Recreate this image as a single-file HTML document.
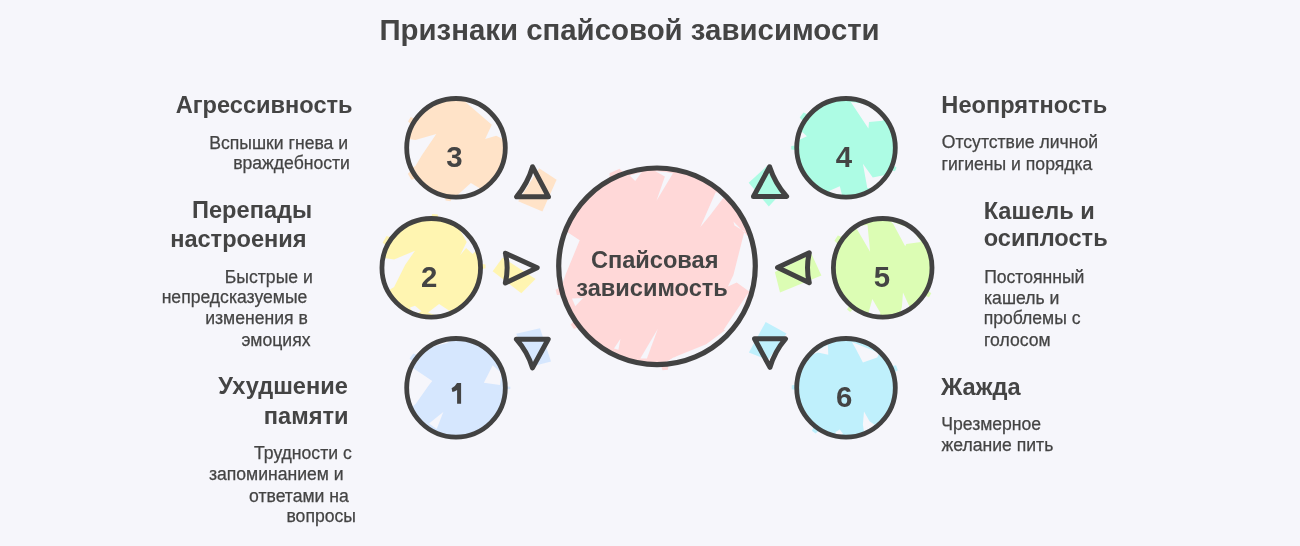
<!DOCTYPE html>
<html><head><meta charset="utf-8"><style>
html,body{margin:0;padding:0;background:#f6f6fb;}
body{width:1300px;height:546px;overflow:hidden;}
svg{display:block;will-change:transform;}
text{font-family:"Liberation Sans",sans-serif;fill:#444444;}
</style></head><body>
<svg width="1300" height="546" viewBox="0 0 1300 546">
<rect width="1300" height="546" fill="#f6f6fb"/>
<polygon points="539.10,168.20 556.60,179.70 542.40,211.60 518.20,201.20" fill="#ffe3c8"/>
<polygon points="492.70,271.30 502.60,257.50 535.50,279.00 521.30,293.20" fill="#fff5b1"/>
<polygon points="516.20,333.70 540.00,328.20 551.00,361.60 532.70,366.20" fill="#d6e7fe"/>
<polygon points="748.70,182.70 767.00,166.00 784.00,190.00 768.80,206.50" fill="#adfce4"/>
<polygon points="774.90,272.00 811.50,254.00 821.40,275.60 780.00,292.50" fill="#dcfdb4"/>
<polygon points="765.70,322.00 786.50,333.50 768.00,360.00 748.90,352.60" fill="#bff0fc"/>
<circle cx="456.0" cy="147.8" r="49.3" fill="#ffe3c8"/>
<circle cx="431.25" cy="267.8" r="49.3" fill="#fff5b1"/>
<circle cx="456.0" cy="387.8" r="49.3" fill="#d6e7fe"/>
<circle cx="846.0" cy="147.8" r="49.3" fill="#adfce4"/>
<circle cx="882.7" cy="267.8" r="49.3" fill="#dcfdb4"/>
<circle cx="846.0" cy="387.8" r="49.3" fill="#bff0fc"/>
<circle cx="657.0" cy="266.3" r="98.3" fill="#ffd8d8"/>
<polygon points="409.00,139.00 415.40,140.00 436.30,134.00 422.00,155.00 415.40,166.00 408.00,170.00 405.00,150.00" fill="#f6f6fb"/>
<polygon points="465.40,102.10 483.00,104.90 496.20,117.00 501.60,128.00 502.70,139.00 496.20,135.70 485.20,139.00 491.80,124.70" fill="#f6f6fb"/>
<polygon points="457.00,195.50 470.90,182.90 480.80,189.00 476.00,197.00" fill="#f6f6fb"/>
<polygon points="384.00,258.00 394.10,259.50 415.00,250.70 405.10,265.00 394.10,287.00 386.00,292.00 381.00,275.00" fill="#f6f6fb"/>
<polygon points="456.00,223.10 472.60,237.40 477.40,249.30 472.60,254.00 466.10,248.10 460.10,255.20 466.70,242.10" fill="#f6f6fb"/>
<polygon points="410.00,307.50 415.00,305.70 421.50,311.20 414.00,315.00" fill="#f6f6fb"/>
<polygon points="428.00,312.50 439.10,304.00 450.10,311.20 440.00,317.00" fill="#f6f6fb"/>
<polygon points="410.00,366.00 432.30,381.10 429.00,385.00 415.80,403.70 410.00,409.00 406.00,390.00" fill="#f6f6fb"/>
<polygon points="418.00,350.00 446.50,343.20 455.00,339.00 425.00,342.00" fill="#f6f6fb"/>
<polygon points="483.90,382.70 492.70,365.20 501.50,372.90 500.00,385.00" fill="#f6f6fb"/>
<polygon points="443.30,411.90 436.70,429.00 429.00,423.50" fill="#f6f6fb"/>
<polygon points="850.80,102.10 869.50,104.30 884.90,117.50 882.70,120.80 869.00,121.90 868.40,128.50" fill="#f6f6fb"/>
<polygon points="862.90,163.70 872.80,177.40 886.00,174.70 875.00,189.00 867.30,188.00" fill="#f6f6fb"/>
<polygon points="829.00,191.00 839.80,186.20 842.00,195.00 832.00,194.00" fill="#f6f6fb"/>
<polygon points="800.00,130.00 806.90,136.20 799.00,140.00" fill="#f6f6fb"/>
<polygon points="855.00,226.00 867.50,225.00 870.10,251.80 858.00,231.00" fill="#f6f6fb"/>
<polygon points="890.00,221.00 912.00,229.00 921.00,241.90 906.30,244.10 905.20,246.30 893.10,223.70" fill="#f6f6fb"/>
<polygon points="872.30,299.10 880.00,312.30 881.00,318.00 868.00,318.00 869.00,311.20" fill="#f6f6fb"/>
<polygon points="903.00,292.50 908.50,304.60 911.00,309.00 900.00,314.00 901.90,306.80" fill="#f6f6fb"/>
<polygon points="806.90,356.40 827.80,344.80 828.30,354.70 817.90,352.50" fill="#f6f6fb"/>
<polygon points="851.90,342.10 879.40,353.10 877.20,357.50 862.90,362.40 856.30,349.80" fill="#f6f6fb"/>
<polygon points="864.00,411.40 869.50,421.30 875.00,425.00 864.00,432.00 862.90,424.60" fill="#f6f6fb"/>
<polygon points="835.50,432.00 839.80,429.50 843.10,434.00 836.00,436.00" fill="#f6f6fb"/>
<polygon points="629.70,175.40 635.20,180.90 641.80,172.10" fill="#f6f6fb"/>
<polygon points="655.00,171.00 665.30,172.10 673.00,173.20 656.50,200.70 664.90,176.50" fill="#f6f6fb"/>
<polygon points="715.80,191.90 724.60,196.30 710.30,215.00 700.40,227.10" fill="#f6f6fb"/>
<polygon points="566.50,231.50 579.70,240.30 565.40,275.00 562.00,285.00 559.00,270.00 561.00,245.00" fill="#f6f6fb"/>
<polygon points="733.40,221.60 734.50,225.40 744.40,231.50 733.40,275.00 727.90,286.50 736.70,282.60 749.90,292.00 756.00,270.00 748.80,237.00" fill="#f6f6fb"/>
<polygon points="748.80,292.00 723.50,330.00 735.60,330.00" fill="#f6f6fb"/>
<polygon points="572.00,298.60 583.00,298.00 575.30,306.30" fill="#f6f6fb"/>
<polygon points="620.50,338.70 614.00,348.60 618.40,349.70" fill="#f6f6fb"/>
<polygon points="657.90,328.80 640.30,358.50 646.90,358.50" fill="#f6f6fb"/>
<polygon points="673.30,357.40 668.90,360.70 679.90,359.60" fill="#f6f6fb"/>
<polygon points="739.00,320.00 706.20,344.20 676.50,356.30 662.00,364.00 700.00,356.00 745.00,325.00" fill="#f6f6fb"/>
<polygon points="412.96,125.87 407.98,121.40 410.68,117.00 416.92,119.41" fill="#ffe3c8"/>
<polygon points="417.94,177.54 411.44,179.70 407.80,173.86 412.59,168.97" fill="#ffe3c8"/>
<polygon points="452.63,195.98 450.56,201.32 445.55,200.58 445.13,194.86" fill="#ffe3c8"/>
<polygon points="430.41,219.51 432.19,214.01 437.81,214.40 438.81,220.09" fill="#fff5b1"/>
<polygon points="387.48,247.39 382.69,242.41 386.58,236.06 393.19,238.06" fill="#fff5b1"/>
<polygon points="479.37,263.59 485.44,264.39 485.55,268.37 479.52,269.49" fill="#fff5b1"/>
<polygon points="414.17,363.65 409.63,358.60 413.29,353.46 419.55,356.11" fill="#d6e7fe"/>
<polygon points="504.27,386.11 510.29,386.66 510.29,388.94 504.27,389.49" fill="#d6e7fe"/>
<polygon points="804.60,122.92 799.73,117.52 803.51,112.40 810.11,115.48" fill="#adfce4"/>
<polygon points="797.77,150.33 791.23,149.52 791.23,146.08 797.77,145.27" fill="#adfce4"/>
<polygon points="891.39,164.32 896.56,167.61 894.97,171.26 889.04,169.73" fill="#adfce4"/>
<polygon points="839.66,245.87 834.43,240.82 837.85,235.45 844.64,238.06" fill="#dcfdb4"/>
<polygon points="855.00,307.37 850.18,311.91 847.04,309.41 850.38,303.69" fill="#dcfdb4"/>
<polygon points="926.11,288.97 931.26,293.19 928.97,297.16 922.74,294.81" fill="#dcfdb4"/>
<polygon points="889.41,366.63 895.98,365.34 897.88,370.14 892.19,373.68" fill="#bff0fc"/>
<polygon points="797.77,390.33 791.72,389.32 791.76,385.34 797.82,384.43" fill="#bff0fc"/>
<polygon points="820.40,428.76 815.67,433.44 811.96,430.75 814.95,424.80" fill="#bff0fc"/>
<polygon points="609.83,181.20 609.54,173.15 619.53,168.69 625.32,174.30" fill="#ffd8d8"/>
<polygon points="563.95,294.75 556.98,294.98 555.62,289.71 561.83,286.53" fill="#ffd8d8"/>
<polygon points="580.33,326.20 573.90,328.92 570.74,324.48 575.40,319.29" fill="#ffd8d8"/>
<polygon points="668.86,362.87 667.88,369.78 662.45,370.21 660.40,363.54" fill="#ffd8d8"/>
<path d="M505.30,147.80 C505.30,175.03 483.23,197.10 456.00,197.10 C428.77,197.10 406.70,175.03 406.70,147.80 C406.70,120.57 428.77,98.50 456.00,98.50 C483.23,98.50 505.30,120.57 505.30,147.80 Z" fill="none" stroke="#424242" stroke-width="4.8"/>
<path d="M480.55,267.80 C480.55,295.03 458.48,317.10 431.25,317.10 C404.02,317.10 381.95,295.03 381.95,267.80 C381.95,240.57 404.02,218.50 431.25,218.50 C458.48,218.50 480.55,240.57 480.55,267.80 Z" fill="none" stroke="#424242" stroke-width="4.8"/>
<path d="M505.30,387.80 C505.30,415.03 483.23,437.10 456.00,437.10 C428.77,437.10 406.70,415.03 406.70,387.80 C406.70,360.57 428.77,338.50 456.00,338.50 C483.23,338.50 505.30,360.57 505.30,387.80 Z" fill="none" stroke="#424242" stroke-width="4.8"/>
<path d="M895.30,147.80 C895.30,175.03 873.23,197.10 846.00,197.10 C818.77,197.10 796.70,175.03 796.70,147.80 C796.70,120.57 818.77,98.50 846.00,98.50 C873.23,98.50 895.30,120.57 895.30,147.80 Z" fill="none" stroke="#424242" stroke-width="4.8"/>
<path d="M932.00,267.80 C932.00,295.03 909.93,317.10 882.70,317.10 C855.47,317.10 833.40,295.03 833.40,267.80 C833.40,240.57 855.47,218.50 882.70,218.50 C909.93,218.50 932.00,240.57 932.00,267.80 Z" fill="none" stroke="#424242" stroke-width="4.8"/>
<path d="M895.30,387.80 C895.30,415.03 873.23,437.10 846.00,437.10 C818.77,437.10 796.70,415.03 796.70,387.80 C796.70,360.57 818.77,338.50 846.00,338.50 C873.23,338.50 895.30,360.57 895.30,387.80 Z" fill="none" stroke="#424242" stroke-width="4.8"/>
<path d="M755.30,266.30 C755.30,320.59 711.29,364.60 657.00,364.60 C602.71,364.60 558.70,320.59 558.70,266.30 C558.70,212.01 602.71,168.00 657.00,168.00 C711.29,168.00 755.30,212.01 755.30,266.30 Z" fill="none" stroke="#424242" stroke-width="5.2"/>
<path d="M532.60,166.80 Q527.60,183.71 516.50,196.80 L548.50,196.80 Z" fill="none" stroke="#424242" stroke-width="5" stroke-linejoin="round"/>
<path d="M505.30,283.00 Q508.95,268.05 505.40,253.20 L537.20,267.70 Z" fill="none" stroke="#424242" stroke-width="5" stroke-linejoin="round"/>
<path d="M516.30,339.20 Q527.48,351.69 532.50,367.90 L548.20,339.20 Z" fill="none" stroke="#424242" stroke-width="5" stroke-linejoin="round"/>
<path d="M769.60,166.80 Q775.02,183.51 786.60,196.50 L753.50,196.50 Z" fill="none" stroke="#424242" stroke-width="5" stroke-linejoin="round"/>
<path d="M809.30,252.80 Q805.70,267.75 809.30,282.80 L777.60,267.40 Z" fill="none" stroke="#424242" stroke-width="5" stroke-linejoin="round"/>
<path d="M770.00,367.40 Q774.68,351.21 785.50,338.80 L754.50,338.80 Z" fill="none" stroke="#424242" stroke-width="5" stroke-linejoin="round"/>
<path d="M457.0,383.1 L461.1,383.1 L461.1,403.8 L457.1,403.8 L457.1,389.9 Q455.1,391.2 452.4,391.9 L451.6,388.3 Q455.2,386.8 457.0,383.1 Z" fill="#444444"/>
<text x="629.55" y="39.80" font-weight="bold" font-size="29.4" text-anchor="middle">Признаки спайсовой зависимости</text>
<text x="264.15" y="112.50" font-weight="bold" font-size="23.6" text-anchor="middle">Агрессивность</text>
<text x="252.10" y="218.40" font-weight="bold" font-size="23.6" text-anchor="middle">Перепады</text>
<text x="238.40" y="246.60" font-weight="bold" font-size="23.6" text-anchor="middle">настроения</text>
<text x="283.00" y="394.40" font-weight="bold" font-size="23.6" text-anchor="middle">Ухудшение</text>
<text x="306.15" y="423.80" font-weight="bold" font-size="23.6" text-anchor="middle">памяти</text>
<text x="278.70" y="148.80" font-weight="normal" font-size="17.6" text-anchor="middle" stroke="#444444" stroke-width="0.25">Вспышки гнева и</text>
<text x="291.55" y="169.40" font-weight="normal" font-size="17.6" text-anchor="middle" stroke="#444444" stroke-width="0.25">враждебности</text>
<text x="268.80" y="282.60" font-weight="normal" font-size="17.6" text-anchor="middle" stroke="#444444" stroke-width="0.25">Быстрые и</text>
<text x="234.50" y="303.20" font-weight="normal" font-size="17.6" text-anchor="middle" stroke="#444444" stroke-width="0.25">непредсказуемые</text>
<text x="256.50" y="324.00" font-weight="normal" font-size="17.6" text-anchor="middle" stroke="#444444" stroke-width="0.25">изменения в</text>
<text x="275.95" y="346.10" font-weight="normal" font-size="17.6" text-anchor="middle" stroke="#444444" stroke-width="0.25">эмоциях</text>
<text x="302.90" y="458.50" font-weight="normal" font-size="17.6" text-anchor="middle" stroke="#444444" stroke-width="0.25">Трудности с</text>
<text x="276.30" y="480.20" font-weight="normal" font-size="17.6" text-anchor="middle" stroke="#444444" stroke-width="0.25">запоминанием и</text>
<text x="298.95" y="502.00" font-weight="normal" font-size="17.6" text-anchor="middle" stroke="#444444" stroke-width="0.25">ответами на</text>
<text x="321.20" y="522.00" font-weight="normal" font-size="17.6" text-anchor="middle" stroke="#444444" stroke-width="0.25">вопросы</text>
<text x="1024.25" y="112.70" font-weight="bold" font-size="23.6" text-anchor="middle">Неопрятность</text>
<text x="1039.25" y="218.60" font-weight="bold" font-size="23.6" text-anchor="middle">Кашель и</text>
<text x="1045.70" y="246.40" font-weight="bold" font-size="23.6" text-anchor="middle">осиплость</text>
<text x="980.75" y="394.70" font-weight="bold" font-size="23.6" text-anchor="middle">Жажда</text>
<text x="1019.90" y="148.20" font-weight="normal" font-size="17.6" text-anchor="middle" stroke="#444444" stroke-width="0.25">Отсутствие личной</text>
<text x="1017.00" y="169.60" font-weight="normal" font-size="17.6" text-anchor="middle" stroke="#444444" stroke-width="0.25">гигиены и порядка</text>
<text x="1034.30" y="282.60" font-weight="normal" font-size="17.6" text-anchor="middle" stroke="#444444" stroke-width="0.25">Постоянный</text>
<text x="1021.70" y="303.50" font-weight="normal" font-size="17.6" text-anchor="middle" stroke="#444444" stroke-width="0.25">кашель и</text>
<text x="1032.10" y="324.30" font-weight="normal" font-size="17.6" text-anchor="middle" stroke="#444444" stroke-width="0.25">проблемы с</text>
<text x="1017.35" y="346.10" font-weight="normal" font-size="17.6" text-anchor="middle" stroke="#444444" stroke-width="0.25">голосом</text>
<text x="991.20" y="429.70" font-weight="normal" font-size="17.6" text-anchor="middle" stroke="#444444" stroke-width="0.25">Чрезмерное</text>
<text x="997.40" y="451.10" font-weight="normal" font-size="17.6" text-anchor="middle" stroke="#444444" stroke-width="0.25">желание пить</text>
<text x="654.70" y="267.60" font-weight="bold" font-size="23.6" text-anchor="middle">Спайсовая</text>
<text x="652.05" y="296.40" font-weight="bold" font-size="23.6" text-anchor="middle">зависимость</text>
<text x="454.32" y="166.70" font-weight="bold" font-size="29.4" text-anchor="middle">3</text>
<text x="429.12" y="286.65" font-weight="bold" font-size="29.4" text-anchor="middle">2</text>
<text x="844.00" y="166.65" font-weight="bold" font-size="29.4" text-anchor="middle">4</text>
<text x="881.90" y="286.90" font-weight="bold" font-size="29.4" text-anchor="middle">5</text>
<text x="844.28" y="406.90" font-weight="bold" font-size="29.4" text-anchor="middle">6</text>
</svg>
</body></html>
